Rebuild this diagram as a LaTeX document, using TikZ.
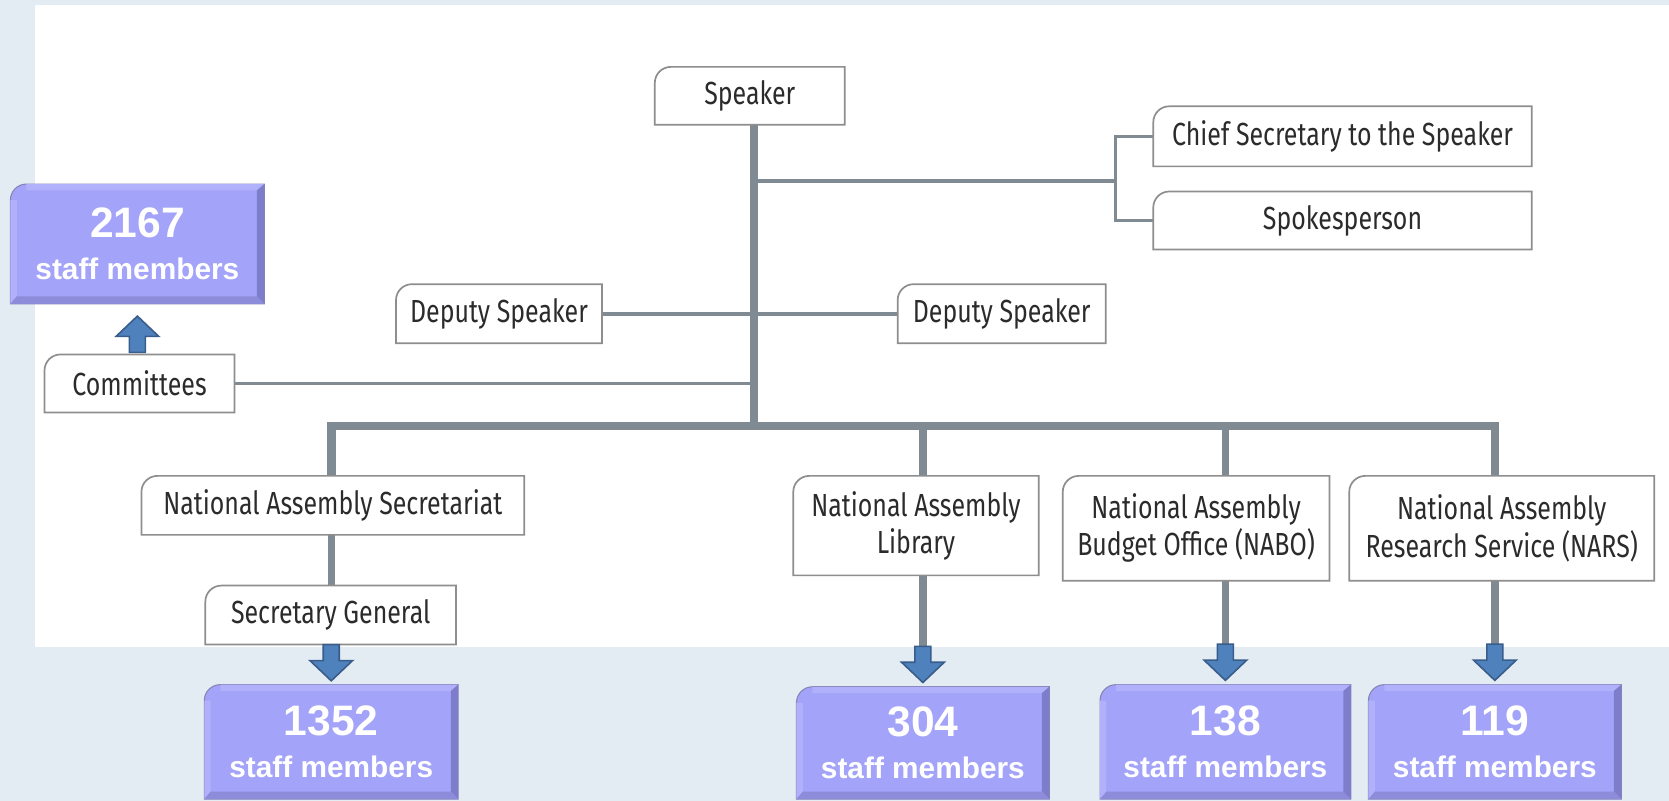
\documentclass[tikz,border=0pt]{standalone}
\usepackage{fontspec}
\setmainfont{Liberation Sans}
\newfontfamily\unitfont[FakeStretch=0.78]{Fira Sans}
\usetikzlibrary{calc,backgrounds}

\definecolor{outerbg}{HTML}{E4ECF3}
\definecolor{linegray}{HTML}{7F8A93}
\definecolor{boxedge}{HTML}{8E8E8E}
\definecolor{unittext}{HTML}{2B2B2B}
\definecolor{staffpurple}{HTML}{A3A3F9}
\definecolor{staffdark}{HTML}{7D7DCB}
\definecolor{staffshade}{HTML}{8C8CDB}
\definecolor{stafflight}{HTML}{B0B0FB}
\definecolor{staffedge}{HTML}{8585B5}
\definecolor{arrowfill}{HTML}{4F81BD}
\definecolor{arrowedge}{HTML}{385D8A}

\tikzset{blockdown/.pic={
  \filldraw[fill=arrowfill,draw=arrowedge,line width=1.5pt,line join=miter]
    (-7.5pt,0pt) -- (-7.5pt,-15pt) -- (-20pt,-15pt) -- (0pt,-34pt) -- (20pt,-15pt) -- (7.5pt,-15pt) -- (7.5pt,0pt) -- cycle;}}

\begin{document}
\begin{tikzpicture}[x=1pt,y=-1pt,
  unit/.style={inner sep=0pt,align=center,text=unittext,font=\unitfont\fontsize{30}{35}\selectfont},
  staff/.style={inner sep=0pt,align=center,text=white,font=\bfseries\fontsize{28}{30}\selectfont},
  link/.style={draw=linegray,line width=3pt},
  stem/.style={draw=linegray,line width=7pt},
  beam/.style={draw=linegray,line width=8pt,line join=miter},
  unitbox/.style={fill=white,draw=boxedge,line width=1.6pt},
  staffbox/.style={fill=staffpurple,draw=staffedge,line width=1pt}]

\useasboundingbox (0,0) rectangle (1567,752);

% units
\node[unit,minimum width=178pt,minimum height=54pt] (speaker) at (704,90) {Speaker};
\node[unit,minimum width=355pt,minimum height=56pt] (chief) at (1260.5,128) {Chief Secretary to the Speaker};
\node[unit,minimum width=355pt,minimum height=54pt] (spokes) at (1260.5,207) {Spokesperson};
\node[unit,minimum width=193pt,minimum height=55pt] (depL) at (468.5,294.5) {Deputy Speaker};
\node[unit,minimum width=195pt,minimum height=55pt] (depR) at (940.5,294.5) {Deputy Speaker};
\node[unit,minimum width=178pt,minimum height=54pt] (committees) at (131,360) {Committees};
\node[unit,minimum width=359pt,minimum height=55pt] (secretariat) at (312.5,474.5) {National Assembly Secretariat};
\node[unit,minimum width=235pt,minimum height=55pt] (secgen) at (310.5,577.5) {Secretary General};
\node[unit,minimum width=230pt,minimum height=93pt] (library) at (860,493.5) {National Assembly\\Library};
\node[unit,minimum width=250pt,minimum height=98pt] (nabo) at (1123,496) {National Assembly\\Budget Office (NABO)};
\node[unit,minimum width=286pt,minimum height=98pt] (nars) at (1410,496) {National Assembly\\Research Service (NARS)};

% staff numbers
\node[staff,minimum width=238pt,minimum height=112pt] (s2167) at (129,229) {{\fontsize{40}{44}\selectfont 2167}\\[9pt]staff members};
\node[staff,minimum width=238pt,minimum height=107pt] (s1352) at (311,696.5) {{\fontsize{40}{44}\selectfont 1352}\\[9pt]staff members};
\node[staff,minimum width=237pt,minimum height=105pt] (s304) at (866.5,697.5) {{\fontsize{40}{44}\selectfont 304}\\[9pt]staff members};
\node[staff,minimum width=235pt,minimum height=107pt] (s138) at (1150.5,696.5) {{\fontsize{40}{44}\selectfont 138}\\[9pt]staff members};
\node[staff,minimum width=237pt,minimum height=107pt] (s119) at (1403.5,696.5) {{\fontsize{40}{44}\selectfont 119}\\[9pt]staff members};

\pic at (secgen.south -| s1352.north) {blockdown};
\pic at ([yshift=38pt]s304.north) {blockdown};
\pic at ([yshift=38pt]s138.north) {blockdown};
\pic at ([yshift=38pt]s119.north) {blockdown};
\pic[rotate=180] at ([yshift=2pt]committees.north -| s2167.south) {blockdown};

\begin{pgfonlayer}{background}
  \fill[outerbg] (0,0) rectangle (1567,752);
  \fill[white] (33,5) rectangle (1567,607);
  \coordinate (bar) at (708,400);
  \coordinate (fork) at (1047,170);

  \draw[stem] (bar |- speaker.south) -- (bar);
  \draw[link] (bar |- fork) -- (fork);
  \draw[link] (chief.west) -| (fork) |- (spokes.west);
  \draw[link,line width=4pt] (depL.east) -- (depR.west);
  \draw[link] (committees.east) -- (committees.east -| bar);
  \draw[beam] (s1352.north |- secretariat.north) -- (s1352.north |- bar) -- (s119.north |- bar) -- (s119.north |- nars.north);
  \draw[stem] (s304.north |- bar) -- (s304.north |- library.north);
  \draw[stem] (s138.north |- bar) -- (s138.north |- nabo.north);
  \draw[stem] (s1352.north |- secretariat.south) -- (s1352.north |- secgen.north);
  \draw[stem] (s304.north |- library.south) -- ([yshift=36pt]s304.north);
  \draw[stem] (s138.north |- nabo.south) -- ([yshift=36pt]s138.north);
  \draw[stem] (s119.north |- nars.south) -- ([yshift=36pt]s119.north);

  \foreach \n in {speaker,chief,spokes,depL,depR,committees,secretariat,secgen,library,nabo,nars}
    \filldraw[unitbox] (\n.south west) -- ([yshift=-15pt]\n.north west) arc[start angle=180,end angle=90,radius=15pt] -- (\n.north east) -- (\n.south east) -- cycle;

  \foreach \n in {s2167,s1352,s304,s138,s119}{
    \filldraw[staffbox] (\n.south west) -- ([yshift=-15pt]\n.north west) arc[start angle=180,end angle=90,radius=15pt] -- (\n.north east) -- (\n.south east) -- cycle;
    \fill[stafflight] ([xshift=15pt]\n.north west) -- (\n.north east) -- ([shift={(-7pt,-6pt)}]\n.north east) -- ([shift={(15pt,-6pt)}]\n.north west) -- cycle;
    \fill[stafflight] ([yshift=-15pt]\n.north west) -- (\n.south west) -- ([shift={(6pt,7pt)}]\n.south west) -- ([shift={(6pt,-15pt)}]\n.north west) -- cycle;
    \fill[staffdark] (\n.north east) -- (\n.south east) -- ([shift={(-7pt,7pt)}]\n.south east) -- ([shift={(-7pt,-6pt)}]\n.north east) -- cycle;
    \fill[staffshade] (\n.south west) -- (\n.south east) -- ([shift={(-7pt,7pt)}]\n.south east) -- ([shift={(6pt,7pt)}]\n.south west) -- cycle;
  }
\end{pgfonlayer}
\end{tikzpicture}
\end{document}
